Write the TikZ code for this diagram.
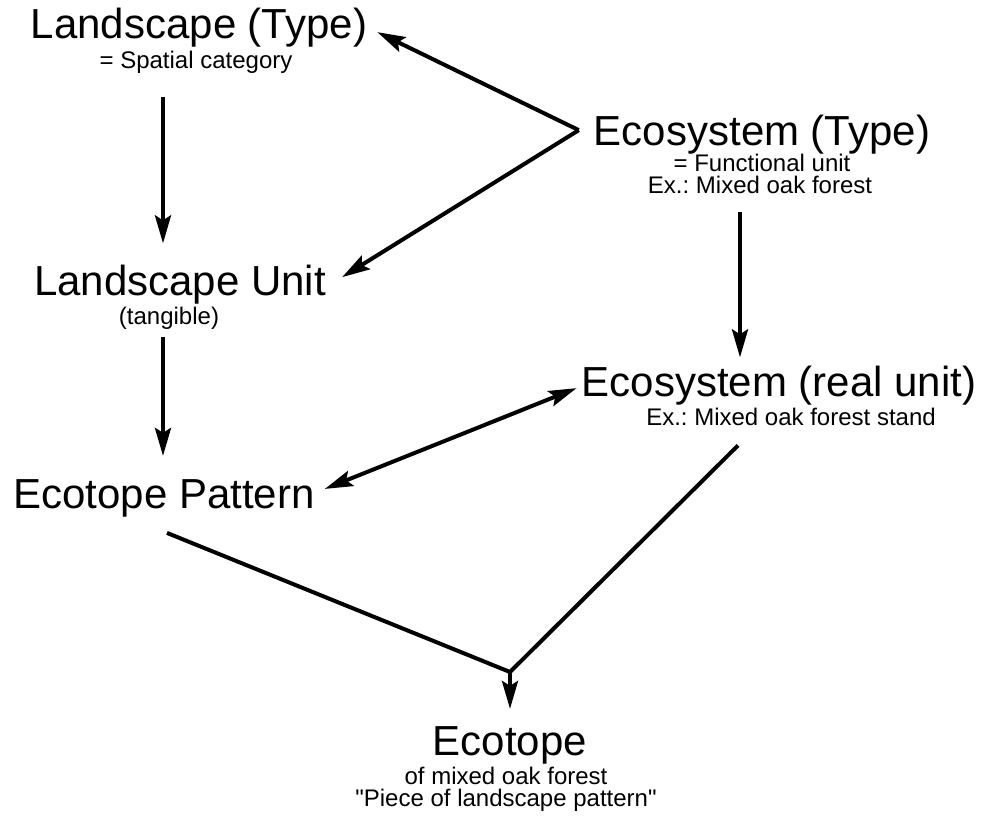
\documentclass[tikz,border=0pt]{standalone}
\usepackage{fontspec}
\setmainfont{Liberation Sans}
\usetikzlibrary{arrows.meta}
\frenchspacing

\begin{document}
\begin{tikzpicture}[x=1pt,y=-1pt,
    title/.style={font=\fontsize{42}{48}\selectfont, inner sep=0pt, anchor=base},
    sub/.style={font=\fontsize{24}{22}\selectfont, inner sep=0pt, anchor=base},
    link/.style={line width=4pt, line join=round},
    arr/.style={link, -{Stealth[length=28pt,width=16pt,inset=5pt]}}]
    \useasboundingbox (0,0) rectangle (991,823);
    \node[title] (lt) at (199,38) {Landscape (Type)};
    \node[sub] (lt-def) at (196,68) {= Spatial category};
    \node[title] (et) at (762,145) {Ecosystem (Type)};
    \node[sub] (et-def) at (762,171) {= Functional unit};
    \node[sub] (et-ex) at (760,193) {Ex.: Mixed oak forest};
    \node[title] (lu) at (180,295) {Landscape Unit};
    \node[sub] (lu-note) at (169,324) {(tangible)};
    \node[title] (er) at (779,396) {Ecosystem (real unit)};
    \node[sub] (er-ex) at (791,425) {Ex.: Mixed oak forest stand};
    \node[title] (ep) at (164,508) {Ecotope Pattern};
    \node[title] (ec) at (510,755) {Ecotope};
    \node[sub] (ec-of) at (506,784) {of mixed oak forest};
    \node[sub] (ec-piece) at (506,806) {\textquotedbl Piece of landscape pattern\textquotedbl};
    \coordinate (fork) at ([xshift=-15pt,yshift=4pt]et.west);
    \coordinate (join) at (510,672);
    \draw[arr] ([xshift=-33pt,yshift=-24pt]lt-def.south) -- ([xshift=-17pt,yshift=21pt]lu.north);
    \draw[arr] ([xshift=-6pt,yshift=-8pt]lu-note.south) -- ([xshift=-1pt,yshift=23pt]ep.north);
    \draw[arr] (fork) -- ([xshift=10pt,yshift=-5pt]lt.east);
    \draw[arr] (fork) -- ([xshift=16pt,yshift=7pt]lu.east);
    \draw[arr] ([xshift=-20pt,yshift=-19pt]et-ex.south) -- ([xshift=-39pt,yshift=8pt]er.north);
    \draw[arr, {Stealth[length=28pt,width=16pt,inset=5pt]}-{Stealth[length=28pt,width=16pt,inset=5pt]}] ([xshift=10pt,yshift=9pt]ep.east) -- ([xshift=-5pt,yshift=-3pt]er.west);
    \draw[link] ([xshift=3pt,yshift=-16pt]ep.south) -- (join) -- ([xshift=-53pt,yshift=-20pt]er-ex.south);
    \draw[arr] (join) -- ([yshift=17pt]ec.north);
\end{tikzpicture}
\end{document}
